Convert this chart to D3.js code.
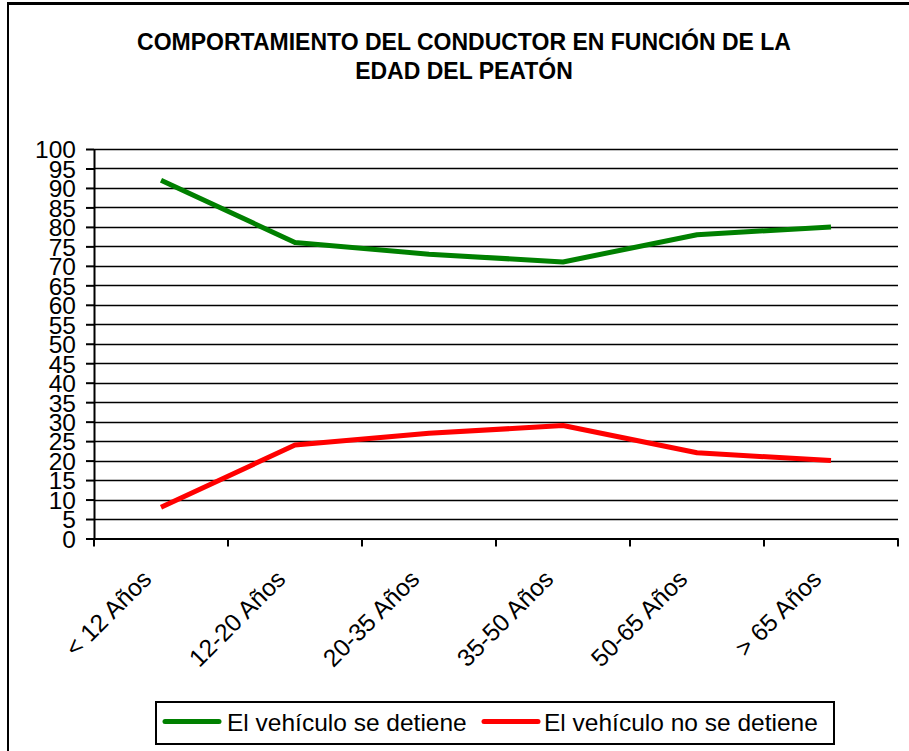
<!DOCTYPE html>
<html><head><meta charset="utf-8">
<script src="https://cdn.jsdelivr.net/npm/d3@7"></script>
<style>body{margin:0;background:#fff}svg{display:block}</style>
</head><body>
<svg id="c" width="909" height="751"></svg>
<script>
const categories = ["< 12 Años","12-20 Años","20-35 Años","35-50 Años","50-65 Años","> 65 Años"];
const seriesNames = ["El vehículo se detiene","El vehículo no se detiene"];
const seDetiene = [92, 76, 73, 71, 78, 80];
const noSeDetiene = [8, 24, 27, 29, 22, 20];
const yTicks = d3.range(0, 101, 5);
const titleLines = ["COMPORTAMIENTO DEL CONDUCTOR EN FUNCIÓN DE LA","EDAD DEL PEATÓN"];
const colors = ["#008000","#ff0000"];

const svg = d3.select("#c");
const font = "Arial, 'Liberation Sans', sans-serif";

// outer frame (left and top only visible)
svg.append("line").attr("x1",8).attr("x2",8).attr("y1",3).attr("y2",751).attr("stroke","#000").attr("stroke-width",2);
svg.append("line").attr("x1",7).attr("x2",909).attr("y1",3.5).attr("y2",3.5).attr("stroke","#000").attr("stroke-width",3);

// title
svg.append("g").selectAll("text").data(titleLines).join("text")
  .attr("x",464).attr("y",(d,i)=>50+i*29)
  .attr("text-anchor","middle").attr("font-family",font).attr("font-weight","bold").attr("font-size",23)
  .text(d=>d);

const x0 = 94, x1 = 898, yTop = 149, yBot = 538.5;
const x = d3.scaleBand().domain(categories).range([x0,x1]);
const y = d3.scaleLinear().domain([0,100]).range([yBot,yTop]);

// gridlines
svg.append("g").selectAll("line").data(yTicks.filter(d=>d>0)).join("line")
  .attr("x1",x0).attr("x2",x1).attr("y1",d=>Math.round(y(d))+0.5).attr("y2",d=>Math.round(y(d))+0.5)
  .attr("stroke","#000").attr("stroke-width",1.3);

// y axis
const yAxis = svg.append("g").attr("transform",`translate(${x0},0)`)
  .call(d3.axisLeft(y).tickValues(yTicks).tickSize(8).tickPadding(10).tickSizeOuter(0));
yAxis.select(".domain").attr("stroke","#000").attr("stroke-width",2);
yAxis.selectAll(".tick line").attr("stroke","#000").attr("stroke-width",2);
yAxis.selectAll(".tick text").attr("font-family",font).attr("font-size",24.5).attr("fill","#000").attr("dy","0.36em");

// x axis
const xAxis = svg.append("g").attr("transform",`translate(0,${yBot})`)
  .call(d3.axisBottom(x).tickSize(0).tickSizeOuter(0));
xAxis.select(".domain").attr("stroke","#000").attr("stroke-width",2);
xAxis.selectAll(".tick line").remove();
xAxis.selectAll(".tick text")
  .attr("font-family",font).attr("font-size",24.5).attr("fill","#000")
  .attr("text-anchor","end").attr("dy",0).attr("y",0)
  .attr("transform","translate(-8,42) rotate(-45)");
// boundary ticks
const bounds = categories.map(c=>x(c)).concat([x1]);
svg.append("g").selectAll("line").data(bounds).join("line")
  .attr("x1",d=>d).attr("x2",d=>d).attr("y1",yBot).attr("y2",yBot+8)
  .attr("stroke","#000").attr("stroke-width",2);

// lines
const line = d3.line().x((d,i)=>x(categories[i])+x.bandwidth()/2).y(d=>y(d));
[seDetiene,noSeDetiene].forEach((s,k)=>{
  svg.append("path").datum(s).attr("d",line).attr("fill","none")
    .attr("stroke",colors[k]).attr("stroke-width",5).attr("stroke-linejoin","round");
});

// legend
const lg = svg.append("g");
lg.append("rect").attr("x",156).attr("y",702).attr("width",678).attr("height",42)
  .attr("fill","#fff").attr("stroke","#000").attr("stroke-width",2);
const items = [{x:163,tx:227},{x:482,tx:544}];
items.forEach((it,k)=>{
  lg.append("line").attr("x1",it.x+2).attr("x2",it.x+56).attr("y1",721.5).attr("y2",721.5)
    .attr("stroke",colors[k]).attr("stroke-width",5).attr("stroke-linecap","round");
  lg.append("text").attr("x",it.tx).attr("y",731).attr("font-family",font).attr("font-size",24.5)
    .text(seriesNames[k]);
});
</script>
</body></html>
